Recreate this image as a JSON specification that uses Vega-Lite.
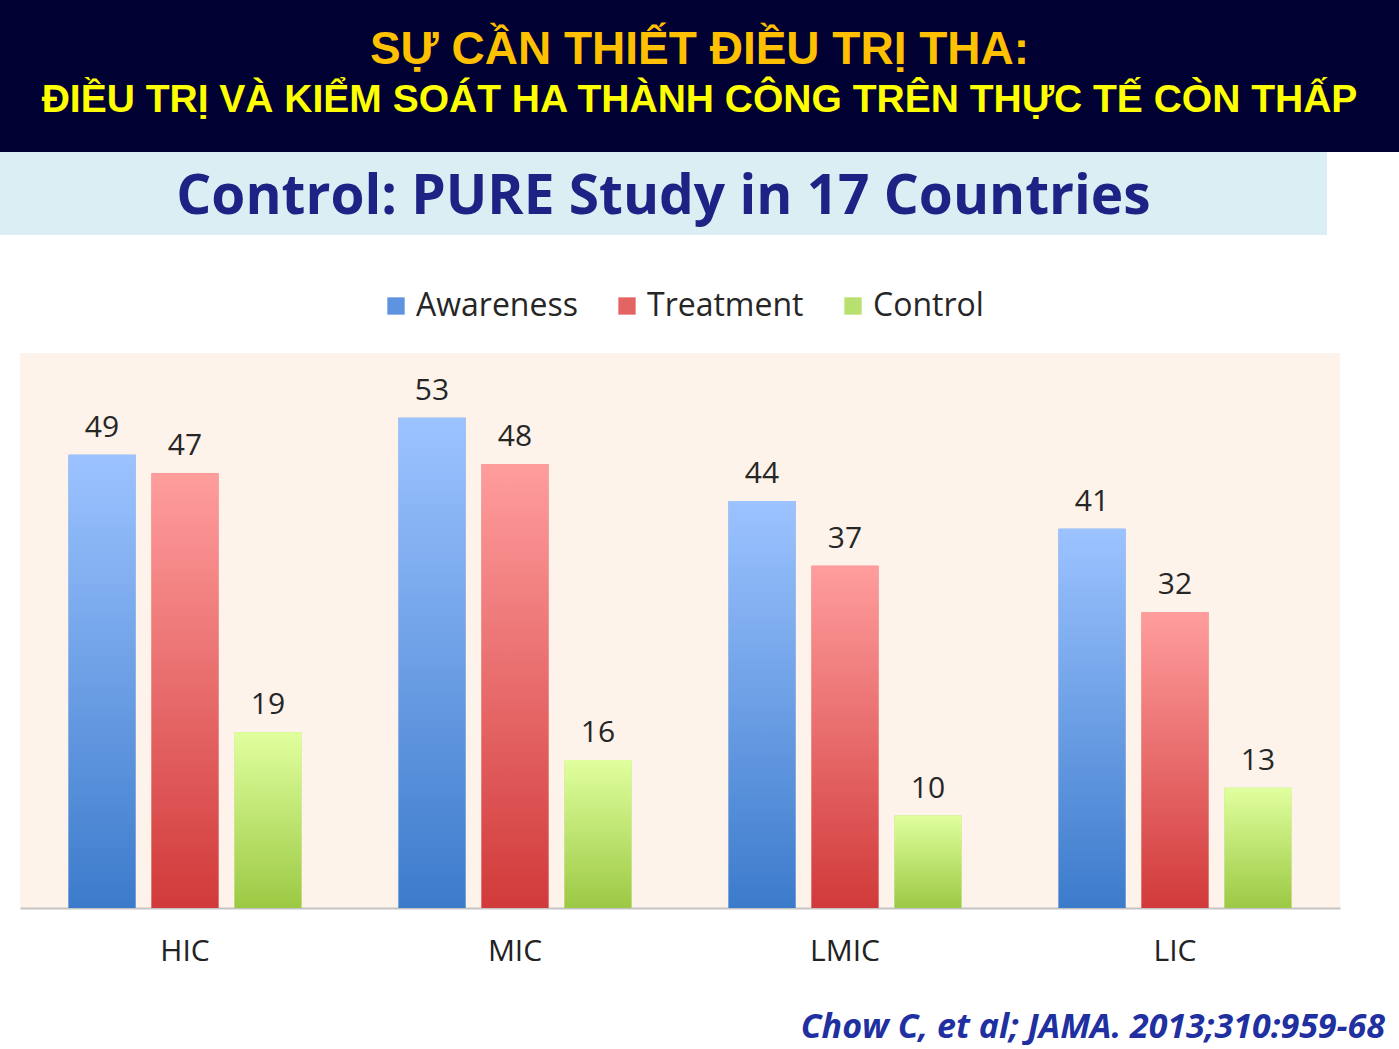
{
  "$schema": "https://vega.github.io/schema/vega-lite/v6.json",
  "padding": 0,
  "background": "#ffffff",
  "spacing": 55,
  "resolve": {"scale": {"color": "independent"}, "legend": {"color": "independent"}},
  "config": {"view": {"stroke": null}},
  "vconcat": [
    {
      "spacing": 0,
      "vconcat": [
        {
          "width": 1399,
          "height": 152,
          "view": {"fill": "#000033", "stroke": null},
          "layer": [
            {
              "data": {"values": [{"t": "SỰ CẦN THIẾT ĐIỀU TRỊ THA:"}]},
              "mark": {"type": "text", "font": "Liberation Sans", "fontWeight": "bold", "fontSize": 46, "color": "#ffc000", "baseline": "alphabetic", "align": "center", "dy": -12},
              "encoding": {"text": {"field": "t"}}
            },
            {
              "data": {"values": [{"t": "ĐIỀU TRỊ VÀ KIỂM SOÁT HA THÀNH CÔNG TRÊN THỰC TẾ CÒN THẤP"}]},
              "mark": {"type": "text", "font": "Liberation Sans", "fontWeight": "bold", "fontSize": 39, "color": "#ffff00", "baseline": "alphabetic", "align": "center", "dy": 36},
              "encoding": {"text": {"field": "t"}}
            }
          ]
        },
        {
          "width": 1327,
          "height": 83,
          "view": {"fill": "#dbeef3", "stroke": null},
          "data": {"values": [{"t": "Control: PURE Study in 17 Countries"}]},
          "mark": {"type": "text", "font": "Open Sans", "fontWeight": "bold", "fontSize": 55, "color": "#1c2385", "baseline": "alphabetic", "align": "center", "dy": 20},
          "encoding": {"text": {"field": "t"}}
        }
      ]
    },
    {
      "spacing": 0,
      "resolve": {"scale": {"color": "independent"}, "legend": {"color": "independent"}},
      "hconcat": [
        {
          "width": 20,
          "height": 555,
          "data": {"values": [{"t": ""}]},
          "mark": {"type": "text"},
          "encoding": {"text": {"field": "t"}}
        },
        {
          "width": 1320,
          "height": 555,
          "view": {"fill": "#fdf3ea", "stroke": null},
          "data": {
            "values": [
              {"group": "HIC", "series": "Awareness", "value": 49},
              {"group": "HIC", "series": "Treatment", "value": 47},
              {"group": "HIC", "series": "Control", "value": 19},
              {"group": "MIC", "series": "Awareness", "value": 53},
              {"group": "MIC", "series": "Treatment", "value": 48},
              {"group": "MIC", "series": "Control", "value": 16},
              {"group": "LMIC", "series": "Awareness", "value": 44},
              {"group": "LMIC", "series": "Treatment", "value": 37},
              {"group": "LMIC", "series": "Control", "value": 10},
              {"group": "LIC", "series": "Awareness", "value": 41},
              {"group": "LIC", "series": "Treatment", "value": 32},
              {"group": "LIC", "series": "Control", "value": 13}
            ]
          },
          "title": {
            "text": "Chow C, et al; JAMA. 2013;310:959-68",
            "orient": "bottom",
            "anchor": "end",
            "font": "Open Sans",
            "fontSize": 34,
            "fontStyle": "italic",
            "fontWeight": "bold",
            "color": "#2030a0",
            "offset": 45,
            "dx": 45
          },
          "encoding": {
            "x": {
              "field": "group",
              "type": "nominal",
              "sort": ["HIC", "MIC", "LMIC", "LIC"],
              "scale": {"paddingInner": 0, "paddingOuter": 0},
              "axis": {"title": null, "labelAngle": 0, "labelFont": "Open Sans", "labelFontSize": 30, "labelColor": "#222222", "ticks": false, "labelPadding": 28, "domainColor": "#c4c4c4", "domainWidth": 2, "grid": false}
            },
            "xOffset": {
              "field": "series",
              "type": "nominal",
              "sort": ["Awareness", "Treatment", "Control"],
              "scale": {"paddingInner": 0.193, "paddingOuter": 0.585}
            },
            "y": {
              "field": "value",
              "type": "quantitative",
              "scale": {"domain": [0, 60]},
              "axis": null
            }
          },
          "layer": [
            {
              "mark": {"type": "bar"},
              "encoding": {
                "color": {
                  "field": "series",
                  "type": "nominal",
                  "sort": ["Awareness", "Treatment", "Control"],
                  "scale": {
                    "domain": ["Awareness", "Treatment", "Control"],
                    "range": ["#5d93e0", "#e46464", "#b8e070"]
                  },
                  "legend": {
                    "title": null,
                    "orient": "none",
                    "legendX": 360,
                    "legendY": -63,
                    "direction": "horizontal",
                    "symbolType": "square",
                    "symbolSize": 300,
                    "symbolStrokeWidth": 0,
                    "symbolOpacity": 1,
                    "labelFont": "Open Sans",
                    "labelFontSize": 32,
                    "labelColor": "#262626",
                    "labelLimit": 400,
                    "labelOffset": 4,
                    "columnPadding": 33
                  }
                }
              }
            },
            {
              "transform": [{"filter": "datum.series === 'Awareness'"}],
              "mark": {"type": "bar", "color": {"gradient": "linear", "x1": 0, "y1": 0, "x2": 0, "y2": 1, "stops": [{"offset": 0, "color": "#9cc3ff"}, {"offset": 1, "color": "#3c7bcb"}]}}
            },
            {
              "transform": [{"filter": "datum.series === 'Treatment'"}],
              "mark": {"type": "bar", "color": {"gradient": "linear", "x1": 0, "y1": 0, "x2": 0, "y2": 1, "stops": [{"offset": 0, "color": "#ff9d9d"}, {"offset": 1, "color": "#d13a3a"}]}}
            },
            {
              "transform": [{"filter": "datum.series === 'Control'"}],
              "mark": {"type": "bar", "color": {"gradient": "linear", "x1": 0, "y1": 0, "x2": 0, "y2": 1, "stops": [{"offset": 0, "color": "#e0ff9e"}, {"offset": 1, "color": "#9cc944"}]}}
            },
            {
              "mark": {"type": "text", "baseline": "bottom", "dy": -12, "font": "Open Sans", "fontSize": 30, "color": "#262626"},
              "encoding": {"text": {"field": "value", "type": "quantitative"}}
            }
          ]
        }
      ]
    }
  ]
}
